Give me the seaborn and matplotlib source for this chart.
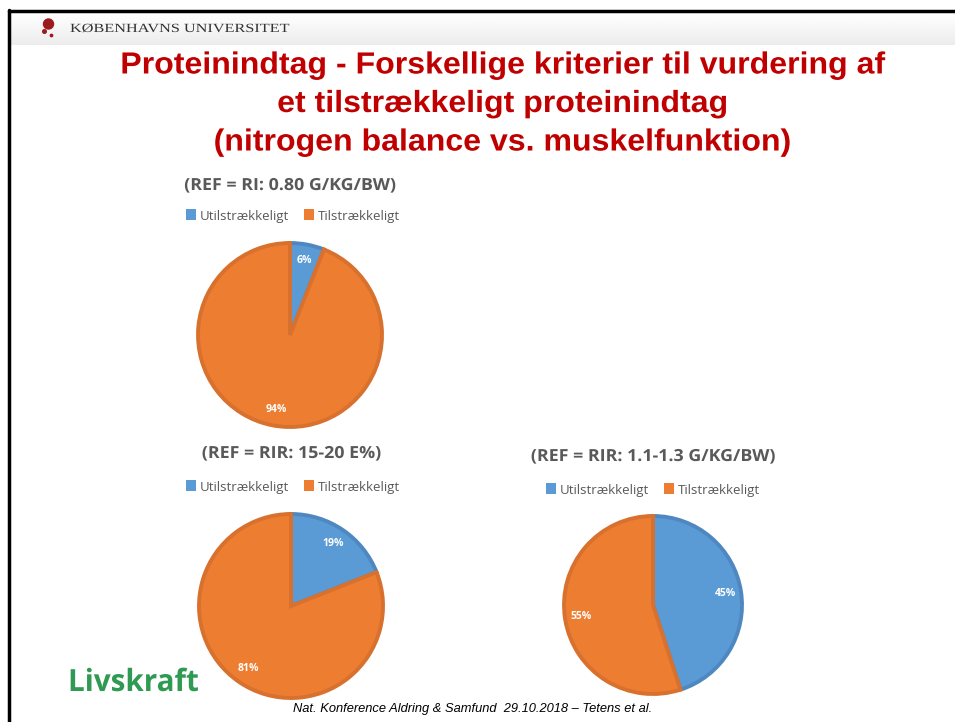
import numpy as np
import matplotlib
matplotlib.use("Agg")
import matplotlib.pyplot as plt
import matplotlib.patches as mpatches
from matplotlib.patheffects import AbstractPathEffect
from matplotlib.transforms import Affine2D
import seaborn as sns

# === Data ===
categories = ["Utilstrækkeligt", "Tilstrækkeligt"]
ri_080 = [6, 94]      # REF = RI: 0.80 g/kg/bw
rir_e = [19, 81]      # REF = RIR: 15-20 E%
rir_gkg = [45, 55]    # REF = RIR: 1.1-1.3 g/kg/bw
chart_titles = ["(REF = RI: 0.80 G/KG/BW)", "(REF = RIR: 15-20 E%)",
                "(REF = RIR: 1.1-1.3 G/KG/BW)"]

slide_title = ("Proteinindtag - Forskellige kriterier til vurdering af\n"
               "et tilstrækkeligt proteinindtag\n"
               "(nitrogen balance vs. muskelfunktion)")
footer = "Nat. Konference Aldring & Samfund  29.10.2018 – Tetens et al."


# horizontal squeeze/stretch of text glyphs
class Stretch(AbstractPathEffect):
    def __init__(self, sx, anchor="center"):
        super().__init__()
        self.sx = sx
        self.anchor = anchor

    def draw_path(self, renderer, gc, tpath, affine, rgbFace=None):
        ext = tpath.get_extents()
        c = (ext.x0 + ext.x1) / 2 if self.anchor == "center" else 0
        t = Affine2D().translate(-c, 0).scale(self.sx, 1).translate(c, 0) + affine
        renderer.draw_path(gc, tpath, t, rgbFace)


sns.set_theme(style="white")
plt.rcParams["font.family"] = ["Open Sans", "DejaVu Sans"]

palette = sns.color_palette(["#5B9BD5", "#ED7D31"])
edges = ["#4f88c0", "#d8702e"]
grey = "#595959"

W, H = 955, 722
fig = plt.figure(figsize=(W / 100, H / 100), dpi=100)

# background / slide decoration in pixel coordinates
bg = fig.add_axes([0, 0, 1, 1])
bg.set_xlim(0, W)
bg.set_ylim(H, 0)
bg.axis("off")

grad = np.linspace(1.0, 0.925, 50).reshape(-1, 1)
bg.imshow(grad, cmap="gray", vmin=0, vmax=1, extent=[10, W, 45, 13], aspect="auto", zorder=0)
bg.plot([9, 9], [10, H], color="black", lw=2.5, zorder=3)
bg.plot([9, W], [11, 11], color="black", lw=2.5, zorder=3)
bg.add_patch(mpatches.Circle((48.5, 24), 5, color="#9b1b1f", zorder=4))
bg.add_patch(mpatches.Circle((44.5, 31.5), 1.8, color="#9b1b1f", zorder=4))
bg.add_patch(mpatches.Circle((51.5, 35.5), 1.2, color="#9b1b1f", zorder=4))
bg.text(70, 29, "KØBENHAVNS UNIVERSITET", fontsize=9, family="Liberation Serif",
        color="#333333", va="center", ha="left",
        path_effects=[Stretch(1.3, anchor="left")])

bg.text(502, 104, slide_title, fontsize=22, weight="bold", color="#c00000",
        ha="center", va="center", linespacing=1.37, family="Liberation Sans",
        path_effects=[Stretch(1.05)])

bg.text(68, 683, "Livskraft", fontsize=22, weight="bold", color="#2e9a52",
        ha="left", va="center", family="Open Sans",
        path_effects=[Stretch(0.97, anchor="left")])
bg.text(473, 709, footer, fontsize=9.3, style="italic", color="black",
        ha="center", va="center", family="Liberation Sans")


def draw_pie(values, title, cx, cy, r, title_y, legend_y, legend_x):
    pad = 1.08
    ax = fig.add_axes([(cx - r * pad) / W, 1 - (cy + r * pad) / H,
                       2 * r * pad / W, 2 * r * pad / H])
    wedges, _, autotexts = ax.pie(values, colors=palette, startangle=90,
                                  counterclock=False, autopct="%1.0f%%",
                                  pctdistance=0.82,
                                  wedgeprops=dict(linewidth=2.8))
    for w, ec in zip(wedges, edges):
        w.set_edgecolor(ec)
    for t in autotexts:
        t.set_color("white")
        t.set_fontsize(7.5)
        t.set_fontweight("bold")
    ax.set_xlim(-pad, pad)
    ax.set_ylim(-pad, pad)
    ax.axis("off")
    bg.text(cx, title_y, title, fontsize=12, weight="bold", color=grey,
            ha="center", va="center", path_effects=[Stretch(1.07)])
    leg = fig.legend(wedges, categories, loc="center", ncol=2, frameon=False,
                     bbox_to_anchor=(legend_x / W, 1 - legend_y / H),
                     bbox_transform=fig.transFigure, fontsize=9.5, labelcolor=grey,
                     handlelength=0.75, handleheight=0.9, handletextpad=0.25,
                     columnspacing=1.2)
    for h in leg.legend_handles:
        h.set_linewidth(0)


draw_pie(ri_080, chart_titles[0], 290, 335, 92, 185, 216, 293)
draw_pie(rir_e, chart_titles[1], 291, 606, 92, 453, 487, 293)
draw_pie(rir_gkg, chart_titles[2], 653, 605, 89, 456, 490, 653)

fig.savefig("out.png", dpi=100)
